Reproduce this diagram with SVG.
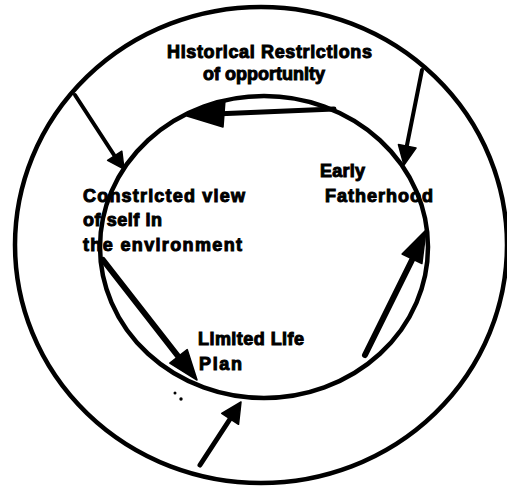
<svg xmlns="http://www.w3.org/2000/svg" width="507" height="487" viewBox="0 0 507 487">
<style>
.ring{fill:none;stroke:#000;stroke-width:4.5}
.ln{fill:none;stroke:#000;stroke-linecap:round}
.head{fill:#000;stroke:#000;stroke-width:1.5;stroke-linejoin:round}
.lbl{font-family:"Liberation Sans",Arial,Helvetica,sans-serif;font-weight:bold;font-size:18px;fill:#000;stroke:#000;stroke-width:1}
</style>
<rect width="507" height="487" fill="#fff"/>
<g id="outer-ring"><ellipse class="ring" cx="261" cy="245" rx="246" ry="238"/></g>
<g id="inner-ring"><ellipse class="ring" cx="264" cy="247" rx="164" ry="151"/></g>
<g id="connectors">
  <line class="ln" x1="334" y1="109" x2="215" y2="114" stroke-width="5"/>
  <polygon class="head" points="187,116 225,100 223,127"/>
  <line class="ln" x1="75" y1="95" x2="116" y2="158" stroke-width="4"/>
  <polygon class="head" points="124,169 107.6,160.4 121.8,151.2"/>
  <line class="ln" x1="422" y1="70" x2="406" y2="150" stroke-width="4"/>
  <polygon class="head" points="404,165 398.4,144.6 416,148"/>
  <line class="ln" x1="365" y1="355" x2="414" y2="256" stroke-width="6"/>
  <polygon class="head" points="426,230 421.9,263.6 402.1,254"/>
  <line class="ln" x1="103" y1="260" x2="181" y2="360" stroke-width="6"/>
  <polygon class="head" points="197,380 169.8,363.2 187.2,349.6"/>
  <line class="ln" x1="200" y1="465" x2="232" y2="416" stroke-width="5"/>
  <polygon class="head" points="241,402 238.5,424.3 221.7,413.3"/>
</g>
<g id="node-history">
  <text class="lbl" x="167" y="58" textLength="205">Historical Restrictions</text>
  <text class="lbl" x="203" y="80" textLength="122">of opportunity</text>
</g>
<g id="node-view">
  <text class="lbl" x="83" y="202" textLength="162">Constricted view</text>
  <text class="lbl" x="83" y="226" textLength="79">of self in</text>
  <text class="lbl" x="83" y="251" textLength="159">the environment</text>
</g>
<g id="node-fatherhood">
  <text class="lbl" x="320" y="177" textLength="45">Early</text>
  <text class="lbl" x="325" y="202" textLength="108">Fatherhood</text>
</g>
<g id="node-lifeplan">
  <text class="lbl" x="198" y="345" textLength="106">Limited Life</text>
  <text class="lbl" x="199" y="370" textLength="43">Plan</text>
</g>
<g id="marks">
  <circle cx="175" cy="393" r="1.5" fill="#000"/>
  <circle cx="181" cy="399" r="1.7" fill="#000"/>
</g>
</svg>
